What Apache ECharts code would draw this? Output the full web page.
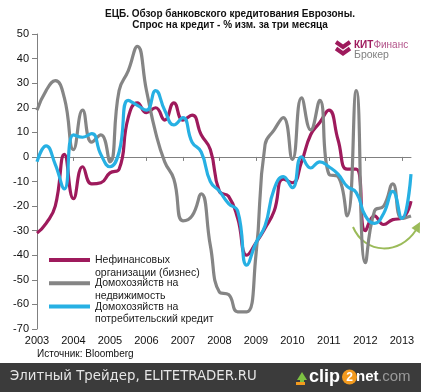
<!DOCTYPE html>
<html><head><meta charset="utf-8">
<script src="https://cdn.jsdelivr.net/npm/echarts@6/dist/echarts.min.js"></script>
<style>html,body{margin:0;padding:0;background:#fff}#c{width:421px;height:392px}</style>
</head><body><div id="c"></div>
<script>
const quarters = ['2003 Q1','2003 Q2','2003 Q3','2003 Q4','2004 Q1','2004 Q2','2004 Q3','2004 Q4',
  '2005 Q1','2005 Q2','2005 Q3','2005 Q4','2006 Q1','2006 Q2','2006 Q3','2006 Q4',
  '2007 Q1','2007 Q2','2007 Q3','2007 Q4','2008 Q1','2008 Q2','2008 Q3','2008 Q4',
  '2009 Q1','2009 Q2','2009 Q3','2009 Q4','2010 Q1','2010 Q2','2010 Q3','2010 Q4',
  '2011 Q1','2011 Q2','2011 Q3','2011 Q4','2012 Q1','2012 Q2','2012 Q3','2012 Q4',
  '2013 Q1','2013 Q2'];
const business = [-31,-27,-20,1,-17,-4,-11,-10.5,-6.5,-5,16,22,18,20,15,22,15,17,9,3,-14,-16,-25,-40,-35,-29,-22,-9,-10.5,-2,9,14,19,7,-5,-5,-30,-24,-27.5,-25.5,-25,-18];
const housing = [19,27,31,24,3,19,6,9,-2,27,35,45,27,10,-2,-9,-26,-24,-15,-36,-55,-56,-63,-63,-40,5,11,16,-1,24,11,23,-7,-8,-24,27,-43,-22,-20,-11,-25,-24];
const consumer = [-2,4.5,-3,-13,9,8,9.5,1,-4,2,23,21,19,27,19,13,16,6,2,-10,-14,-19,-22,-44,-35,-28,-13,-8,-12.5,0,-4.5,-2,-4,-7,-12,-14.5,-24,-27,-23,-14,-25,-7];
const seriesNames = ['Нефинансовых\nорганизации (бизнес)','Домохозяйств на\nнедвижимость','Домохозяйств на\nпотребительский кредит'];
const seriesColors = ['#9e1a5c','#858585','#27b0e3'];
const titleText = 'ЕЦБ. Обзор банковского кредитования Еврозоны.\nСпрос на кредит - % изм. за три месяца';
const sourceText = 'Источник: Bloomberg';

const chart = echarts.init(document.getElementById('c'), null, {renderer:'canvas'});
const font = 'Arial, "Liberation Sans", sans-serif';
const mk = (name, data, color) => ({
  name, type:'line', data, smooth:true, showSymbol:false, symbol:'none',
  xAxisIndex:0, yAxisIndex:0,
  lineStyle:{width:3.2, color}, itemStyle:{color}
});
chart.setOption({
  animation:false,
  backgroundColor:'#fff',
  title:{text:titleText, left:230, textAlign:'center', top:8, padding:0,
    textStyle:{fontFamily:font, fontSize:10, fontWeight:'bold', color:'#111', lineHeight:11.5}},
  grid:{left:37, right:10, top:34, bottom:63},
  legend:{orient:'vertical', left:49, top:241, padding:0, itemGap:-14, itemWidth:41, itemHeight:4, icon:'rect',
    data:seriesNames,
    formatter:(n)=>'{s| }\n' + n.split('\n').map(p=>'{t|'+p+'}').join('\n'),
    textStyle:{fontFamily:font, fontSize:10.5, color:'#1a1a1a',
      rich:{s:{fontSize:10.5, lineHeight:13, height:13}, t:{fontFamily:font, fontSize:10.5, color:'#1a1a1a', lineHeight:12.5}}}},
  xAxis:[
    {type:'category', data:quarters, boundaryGap:false,
     axisLine:{onZero:true, lineStyle:{color:'#808080', width:1}},
     axisTick:{show:true, interval:3, length:4, lineStyle:{color:'#808080'}},
     axisLabel:{show:false}, splitLine:{show:false}},
    {type:'category', data:quarters, boundaryGap:false, position:'bottom',
     axisLine:{show:false, onZero:false}, axisTick:{show:false},
     axisLabel:{show:true, interval:3, margin:6, fontFamily:font, fontSize:11, color:'#111',
       formatter:(v)=>v.slice(0,4)}, splitLine:{show:false}}
  ],
  yAxis:{type:'value', min:-70, max:50, interval:10,
    axisLine:{show:true, lineStyle:{color:'#808080'}},
    axisTick:{show:true, length:5, lineStyle:{color:'#808080'}},
    axisLabel:{margin:8, fontFamily:font, fontSize:11, color:'#111'},
    splitLine:{show:false}},
  series:[mk(seriesNames[0], business, seriesColors[0]), mk(seriesNames[1], housing, seriesColors[1]), mk(seriesNames[2], consumer, seriesColors[2])],
  graphic:[
    {type:'text', left:37, top:349, style:{text:sourceText, font:'10px '+font, fill:'#111'}},
    // logo
    {type:'polyline', shape:{points:[[336,42],[343,47],[350,42]]}, style:{stroke:'#9e1a5c', lineWidth:4, fill:null}},
    {type:'polyline', shape:{points:[[336,48.5],[343,53.5],[350,48.5]]}, style:{stroke:'#9e1a5c', lineWidth:4, fill:null}},
    {type:'text', x:354, y:40, style:{text:'{a|КИТ}{b|Финанс}',
      rich:{a:{fontFamily:font, fontSize:10, fontWeight:'bold', fill:'#9e1a5c', color:'#9e1a5c'},
            b:{fontFamily:font, fontSize:10, fill:'#b3548a', color:'#b3548a'}}}},
    {type:'text', x:354, y:50, style:{text:'Брокер', font:'10.5px '+font, fill:'#808080'}},
    // green arrow
    {type:'bezierCurve', shape:{x1:353,y1:227,cpx1:365,cpy1:255,cpx2:400,cpy2:255,x2:416,y2:230},
      style:{stroke:'#9bbb59', lineWidth:2, fill:null}},
    {type:'polygon', shape:{points:[[420,222],[419.8,233.5],[411.5,228]]}, style:{fill:'#9bbb59'}},
    // bottom banner
    {type:'rect', shape:{x:0,y:363,width:421,height:29}, style:{fill:'#3b3b3b'}},
    {type:'text', x:10, y:370, style:{text:'Элитный Трейдер, ELITETRADER.RU', font:'13.3px "DejaVu Sans", sans-serif', fill:'#e6e6e6'}},
    {type:'polygon', shape:{points:[[297,380],[302,372],[307,380],[304,380],[304,384],[300,384],[300,380]]}, style:{fill:'#7dc242'}},
    {type:'rect', shape:{x:296,y:382,width:9,height:3}, style:{fill:'#f39a1e'}},
    {type:'text', x:309, y:368, style:{text:'clip', font:'bold 18px '+font, fill:'#ffffff'}},
    {type:'circle', shape:{cx:349.5, cy:377, r:7.5}, style:{fill:'#f39a1e'}},
    {type:'text', x:349.5, y:377.5, style:{text:'2', font:'bold 12px '+font, fill:'#ffffff', align:'center', verticalAlign:'middle'}},
    {type:'text', x:356, y:369, style:{text:'net', font:'bold 15px '+font, fill:'#ffffff'}},
    {type:'text', x:378, y:369, style:{text:'.com', font:'15px '+font, fill:'#9a9a9a'}}
  ]
});
</script></body></html>
